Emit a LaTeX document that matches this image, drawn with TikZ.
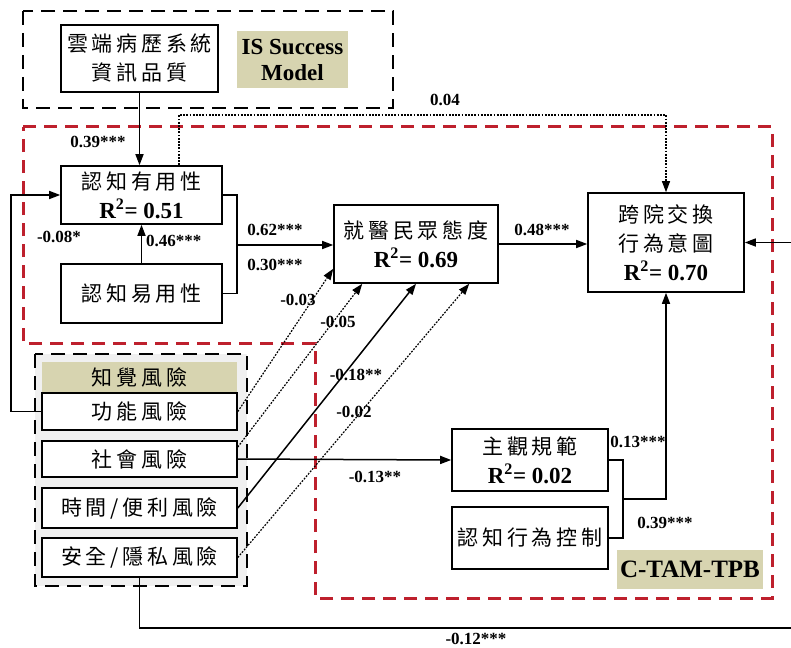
\documentclass[tikz,border=0pt]{standalone}
\usepackage{fontspec}
\setmainfont{Liberation Serif}
\newfontfamily\cjk[LetterSpace=18]{Noto Sans CJK TC}
\usetikzlibrary{arrows.meta,calc}
\definecolor{olivebg}{RGB}{215,212,176}
\definecolor{dred}{RGB}{190,32,45}
\newcommand\Rsq[1]{{\rmfamily\bfseries\fontsize{23}{23}\selectfont R\textsuperscript{2}= #1}}
\begin{document}
\begin{tikzpicture}[x=1pt,y=-1pt,
  box/.style={draw, line width=1.6pt, fill=white, inner sep=0pt, align=center, font=\cjk\fontsize{21}{29}\selectfont},
  olivetag/.style={fill=olivebg, inner sep=0pt, align=center, font=\bfseries\fontsize{23}{26}\selectfont},
  lab/.style={inner sep=0pt, font=\bfseries\fontsize{17}{17}\selectfont},
  conn/.style={line width=1.5pt, -{Triangle[length=11pt,width=8pt]}},
  wire/.style={line width=1.5pt},
  dotconn/.style={line width=1.2pt, dash pattern=on 1.8pt off 1.4pt, -{Triangle[length=11pt,width=8pt]}},
  reddash/.style={draw=dred, line width=3pt, dash pattern=on 13pt off 8pt},
  blkdash/.style={draw=black, line width=2.5pt, dash pattern=on 14pt off 8pt},
]
\useasboundingbox (0,0) rectangle (791,647);
\clip (0,0) rectangle (791,647);

% frames
\draw[blkdash] (23,11) rectangle (393,108);
\draw[reddash] (23,127) -- (772,127) -- (772,598) -- (315,598) -- (315,343) -- (23,343) -- cycle;
\draw[blkdash, fill=gray!12] (35,354) rectangle (247,586);

% nodes
\node[box, minimum width=157, minimum height=67] (iq) at (139.5,58.5) {雲端病歷系統\\資訊品質};
\node[olivetag, minimum width=111, minimum height=57] (ism) at (292.5,59.5) {IS Success\\Model};
\node[box, minimum width=161, minimum height=58] (pu) at (141.5,195) {認知有用性\\\Rsq{0.51}};
\node[box, minimum width=161, minimum height=59] (peou) at (141.5,293.5) {認知易用性};
\node[box, minimum width=164, minimum height=78] (att) at (416,244) {就醫民眾態度\\\Rsq{0.69}};
\node[box, minimum width=156, minimum height=99] (bi) at (666,242.5) {跨院交換\\行為意圖\\\Rsq{0.70}};
\node[box, minimum width=156, minimum height=62] (sn) at (530,460) {主觀規範\\\Rsq{0.02}};
\node[box, minimum width=156, minimum height=62] (pbc) at (530,538) {認知行為控制};
\node[olivetag, minimum width=146, minimum height=39, font=\bfseries\fontsize{25}{25}\selectfont] (ctam) at (690,569.5) {C-TAM-TPB};
\node[fill=olivebg, minimum width=195, minimum height=30, inner sep=0pt, font=\cjk\fontsize{21}{21}\selectfont] (prk) at (139.5,377) {知覺風險};
\node[box, minimum width=195, minimum height=37] (fr) at (139.5,411.5) {功能風險};
\node[box, minimum width=195, minimum height=36] (sr) at (139.5,459) {社會風險};
\node[box, minimum width=195, minimum height=40] (tr) at (139.5,508) {時間/便利風險};
\node[box, minimum width=195, minimum height=39] (pr) at (139.5,557.5) {安全/隱私風險};

% connectors
\draw[conn] (iq.south) -- (iq.south |- pu.north);
\coordinate (c04) at (179,115);
\draw[dotconn] (pu.north -| c04) -- (c04) -| (bi.north);
\draw[conn] (peou.north) -- (pu.south);
\coordinate (j1) at (237,245);
\draw[wire] (pu.east) -| (j1 |- peou.east) -- (peou.east);
\draw[conn] (j1) -- (att.west |- j1);
\draw[conn] (att.east) -- (bi.west |- att.east);
\draw[conn] (fr.west) -- ++(-30,0) |- (pu.west);
\draw[dotconn] (fr.east) -- ($(att.south west)+(0,-15)$);
\draw[dotconn] ([yshift=12pt]sr.east) -- ($(att.south west)+(29,0)$);
\draw[conn] (tr.east) -- (att.south);
\draw[dotconn] (pr.east) -- ($(att.south west)+(136,0)$);
\draw[conn] (sr.east) -- (sn.west);
\coordinate (j2) at (623,499);
\draw[wire] (sn.east) -| (j2 |- pbc.east) -- (pbc.east);
\draw[conn] (j2) -| (bi.south);
\coordinate (cr) at (805,628);
\draw[conn] (pr.south) |- (cr) |- (bi.east);

% labels
\node[lab] (l039) at (98,142) {0.39***};
\node[lab] (l004) at (445,100) {0.04};
\node[lab] (l008) at (59,237) {-0.08*};
\node[lab, anchor=west] (l046) at (146,241) {0.46***};
\node[lab] (l062) at (275,230) {0.62***};
\node[lab] (l030) at (275,265) {0.30***};
\node[lab] (l048) at (542,230) {0.48***};
\node[lab] (l003) at (298,300) {-0.03};
\node[lab] (l005) at (338,322) {-0.05};
\node[lab] (l018) at (356,375) {-0.18**};
\node[lab] (l002) at (354,412) {-0.02};
\node[lab] (l013) at (375,477) {-0.13**};
\node[lab] (l013b) at (638,442) {0.13***};
\node[lab] (l039b) at (665,523) {0.39***};
\node[lab] (l012) at (476,639) {-0.12***};
\end{tikzpicture}
\end{document}
